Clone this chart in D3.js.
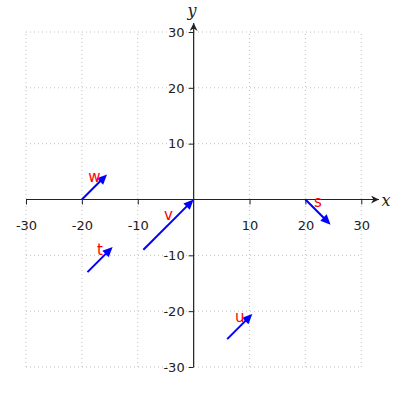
<!DOCTYPE html>
<html>
<head>
<meta charset="utf-8">
<script src="https://cdn.jsdelivr.net/npm/d3@7"></script>
<style>
  body { margin: 0; background: #fff; }
  svg { display: block; }
</style>
</head>
<body>
<div id="chart"></div>
<script>
// vector data: name, start point, components
var names = ['w', 'v', 't', 'u', 's'];
var x0 = [-20, -9, -19, 6, 20];
var y0 = [0, -9, -13, -25, 0];
var dx = [4.5, 9, 4.5, 4.5, 4.5];
var dy = [4.5, 9, 4.5, 4.5, -4.5];
var ticks = [-30, -20, -10, 10, 20, 30];

var width = 400, height = 400;
var xs = d3.scaleLinear().domain([-30, 30]).range([26, 361.3]);
var ys = d3.scaleLinear().domain([-30, 30]).range([367, 32]);

var svg = d3.select('#chart').append('svg')
    .attr('width', width)
    .attr('height', height);

var defs = svg.append('defs');
defs.append('marker')
    .attr('id', 'axhead')
    .attr('viewBox', '0 0 10 10')
    .attr('refX', 10).attr('refY', 5)
    .attr('markerWidth', 10).attr('markerHeight', 8)
    .attr('markerUnits', 'userSpaceOnUse')
    .attr('orient', 'auto')
    .append('path').attr('d', 'M0,0 L10,5 L0,10 L3,5 Z').attr('fill', '#222');

// grid
var grid = svg.append('g').attr('stroke', '#c0c0c0').attr('stroke-width', 1).attr('stroke-dasharray', '1,3');
grid.selectAll('.gx').data(d3.range(-30, 31, 10)).enter().append('line')
    .attr('x1', d => xs(d)).attr('x2', d => xs(d))
    .attr('y1', ys(-30)).attr('y2', ys(30));
grid.selectAll('.gy').data(d3.range(-30, 31, 10)).enter().append('line')
    .attr('y1', d => ys(d)).attr('y2', d => ys(d))
    .attr('x1', xs(-30)).attr('x2', xs(30));

// axes through origin
svg.append('line')
    .attr('x1', xs(-30)).attr('x2', 379)
    .attr('y1', ys(0)).attr('y2', ys(0))
    .attr('stroke', '#222').attr('stroke-width', 1.2)
    .attr('marker-end', 'url(#axhead)');
svg.append('line')
    .attr('x1', xs(0)).attr('x2', xs(0))
    .attr('y1', ys(-30)).attr('y2', 23)
    .attr('stroke', '#222').attr('stroke-width', 1.2)
    .attr('marker-end', 'url(#axhead)');

var fmt = d => String(d);
var xAxis = d3.axisBottom(xs).tickValues(ticks).tickFormat(fmt).tickSize(5).tickPadding(16);
var xg = svg.append('g').attr('transform', `translate(0,${ys(0)})`).call(xAxis);
var yAxis = d3.axisLeft(ys).tickValues(ticks).tickFormat(fmt).tickSize(5).tickPadding(4);
var yg = svg.append('g').attr('transform', `translate(${xs(0)},0)`).call(yAxis);
[xg, yg].forEach(function(g) {
    g.select('.domain').remove();
    g.selectAll('line').attr('stroke', '#222');
    g.selectAll('text').attr('fill', '#222')
        .style('font-family', 'DejaVu Sans, sans-serif').style('font-size', '13px');
});

svg.append('text').text('x')
    .attr('x', 386).attr('y', 206)
    .attr('text-anchor', 'middle')
    .style('font-family', 'DejaVu Serif, serif').style('font-style', 'italic').style('font-size', '16px')
    .attr('fill', '#222');
svg.append('text').text('y')
    .attr('x', 192).attr('y', 16)
    .attr('text-anchor', 'middle')
    .style('font-family', 'DejaVu Serif, serif').style('font-style', 'italic').style('font-size', '16px')
    .attr('fill', '#222');

// vectors
var vecs = names.map(function(n, i) {
    return { name: n, x0: x0[i], y0: y0[i], x1: x0[i] + dx[i], y1: y0[i] + dy[i] };
});

var head = 10, halfw = 4.5;
var vg = svg.append('g');
vecs.forEach(function(d) {
    var px0 = xs(d.x0), py0 = ys(d.y0), px1 = xs(d.x1), py1 = ys(d.y1);
    var ang = Math.atan2(py1 - py0, px1 - px0);
    var c = Math.cos(ang), s = Math.sin(ang);
    var bx = px1 - head * c, by = py1 - head * s;
    vg.append('line')
        .attr('x1', px0).attr('y1', py0).attr('x2', bx + 2 * c).attr('y2', by + 2 * s)
        .attr('stroke', 'blue').attr('stroke-width', 2);
    vg.append('path')
        .attr('d', `M${px1},${py1} L${bx - halfw * s},${by + halfw * c} L${bx + halfw * s},${by - halfw * c} Z`)
        .attr('fill', 'blue');
    vg.append('text').text(d.name)
        .attr('x', xs((d.x0 + d.x1) / 2))
        .attr('y', ys((d.y0 + d.y1) / 2) - 5)
        .attr('text-anchor', 'middle')
        .attr('fill', 'red')
        .style('font-family', 'DejaVu Sans, sans-serif').style('font-size', '15px');
});
</script>
</body>
</html>
